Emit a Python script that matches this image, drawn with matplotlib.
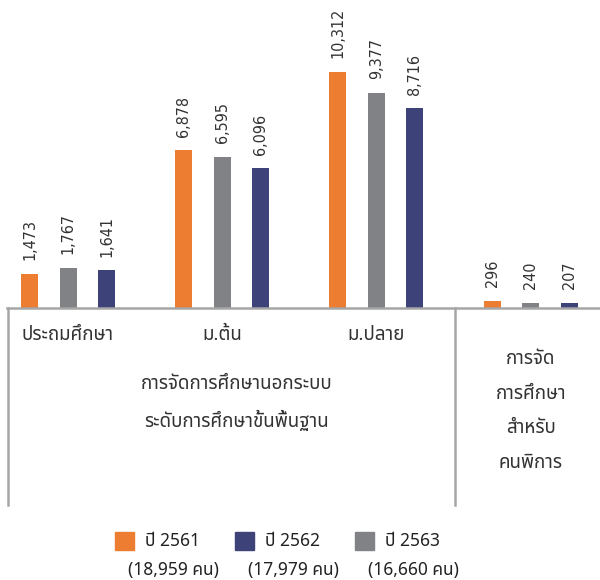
import numpy as np
import matplotlib
matplotlib.use("Agg")
import matplotlib.pyplot as plt
from matplotlib import font_manager, transforms
from matplotlib.ft2font import FT2Font
from matplotlib.patches import Rectangle
from matplotlib.lines import Line2D

# data
groups = ["ประถมศึกษา", "ม.ต้น", "ม.ปลาย", "การจัด\nการศึกษา\nสำหรับ\nคนพิการ"]
vals_orange = [1473, 6878, 10312, 296]   # ปี 2561
vals_gray = [1767, 6595, 9377, 240]      # ปี 2563
vals_navy = [1641, 6096, 8716, 207]      # ปี 2562
super_label = "การจัดการศึกษานอกระบบ\nระดับการศึกษาขั้นพื้นฐาน"
legend_years = ["ปี 2561", "ปี 2562", "ปี 2563"]
legend_counts = ["(18,959 คน)", "(17,979 คน)", "(16,660 คน)"]

ORANGE = "#ED7D31"
GRAY = "#808285"
NAVY = "#3D4279"
LINE = "#A6A6A6"
TXT = "#333333"


def thai_family():
    found = []
    for f in font_manager.fontManager.ttflist:
        try:
            if 0x0E01 in FT2Font(f.fname).get_charmap():
                found.append(f.name)
        except Exception:
            pass
    for pref in ["Noto Sans Thai", "Noto Sans Thai Looped", "Loma", "Garuda", "Norasi", "Waree"]:
        if pref in found:
            return pref
    return found[0] if found else "DejaVu Sans"


plt.rcParams['font.family'] = [thai_family(), 'DejaVu Sans']

W, H = 600, 580
fig = plt.figure(figsize=(W / 100, H / 100), dpi=100)
base_px = 308  # baseline from top
ax = fig.add_axes([0, (H - base_px) / H, 1, base_px / H])

gx = np.arange(len(groups))
unit = 154.2  # px per group
ax.set_xlim(-68 / unit, (W - 68) / unit)
ax.set_ylim(0, base_px / 0.0229)
ax.axis('off')

off = 38.5 / unit
bw = 17 / unit
for vals, dx, col in [(vals_orange, -off, ORANGE), (vals_gray, 0, GRAY), (vals_navy, off, NAVY)]:
    bars = ax.bar(gx + dx, vals, width=bw, color=col)
    for b, v in zip(bars, vals):
        ax.annotate(f"{v:,}", (b.get_x() + b.get_width() / 2, v), xytext=(0, 10),
                    textcoords='offset points', rotation=90, ha='center', va='bottom',
                    fontsize=11.5, color=TXT, family='DejaVu Sans', fontstretch='condensed')

# frame lines
def px_line(x0, y0, x1, y1):
    fig.add_artist(Line2D([x0 / W, x1 / W], [1 - y0 / H, 1 - y1 / H],
                          color=LINE, lw=1.8, transform=fig.transFigure))

px_line(7, 308, 600, 308)
px_line(8, 308, 8, 505)
px_line(455, 308, 455, 505)

tr = transforms.blended_transform_factory(ax.transData, fig.transFigure)
for i, name in enumerate(groups[:3]):
    ax.text(gx[i], 1 - 335 / H, name, transform=tr, ha='center', va='center',
            fontsize=13.5, color=TXT)
ax.text(1.096, 1 - 403 / H, super_label, transform=tr, ha='center', va='center',
        fontsize=13.5, color=TXT, linespacing=1.95)
ax.text(gx[3], 1 - 411 / H, groups[3], transform=tr, ha='center', va='center',
        fontsize=13.5, color=TXT, linespacing=2.2)

# legend
leg_x = [115, 235, 355]
leg_cols = [ORANGE, NAVY, GRAY]
for x, col, yr, cnt in zip(leg_x, leg_cols, legend_years, legend_counts):
    fig.add_artist(Rectangle((x / W, 1 - 550 / H), 19 / W, 18 / H, color=col,
                             transform=fig.transFigure))
    fig.text((x + 30) / W, 1 - 541 / H, yr, ha='left', va='center', fontsize=12.5, color="#222222")
    fig.text((x + 58) / W, 1 - 570 / H, cnt, ha='center', va='center', fontsize=12.5, color="#222222")

fig.savefig("out.png", dpi=100)
